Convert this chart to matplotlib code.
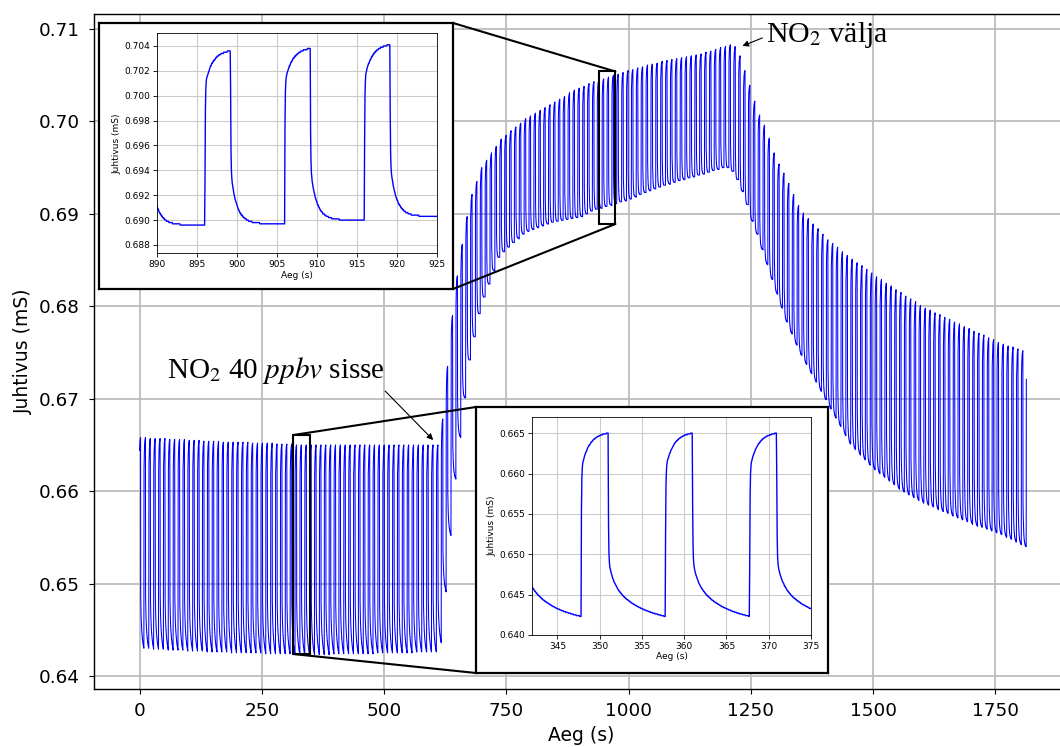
import numpy as np
import matplotlib
matplotlib.use("Agg")
import matplotlib.pyplot as plt
from matplotlib.patches import Rectangle, ConnectionPatch

plt.rcParams["mathtext.fontset"] = "stix"

# ---------------- data ----------------
PERIOD = 9.967        # s, gas pulse period
FIRST_RISE = -1.045   # s, first rising edge
ON_TIME = 3.2         # s, length of each high phase
T_END = 1813.3        # s, end of record
DT = 0.05             # s, sampling step

# envelope of the pulse tops (value just before each falling edge)
top_t = [0, 150, 350, 615, 625, 635, 645, 656, 676, 700, 738, 790, 840, 890, 899,
         909, 919, 943, 1000, 1045, 1100, 1148, 1209, 1219, 1230, 1240, 1250, 1260,
         1270, 1281, 1291, 1301, 1322, 1352, 1408, 1455, 1500, 1557, 1600, 1660,
         1700, 1762, 1820]
top_v = [0.6658, 0.6654, 0.6650, 0.6650, 0.6705, 0.6765, 0.6815, 0.6855, 0.6915,
         0.6950, 0.6980, 0.7003, 0.7018, 0.7034, 0.7036, 0.7038, 0.7041, 0.7045,
         0.7055, 0.7062, 0.7068, 0.7073, 0.7083, 0.7081, 0.7069, 0.7052, 0.7036,
         0.7018, 0.7004, 0.6993, 0.6977, 0.6961, 0.6940, 0.6904, 0.6872, 0.6852,
         0.6835, 0.6815, 0.6800, 0.6785, 0.6775, 0.6760, 0.6750]

# envelope of the pulse bottoms (value just before each rising edge)
bot_t = [0, 150, 350, 615, 625, 635, 645, 656, 676, 700, 738, 790, 840, 886, 896,
         906, 916, 926, 1000, 1045, 1100, 1148, 1202, 1219, 1240, 1256, 1264, 1297,
         1325, 1352, 1408, 1455, 1500, 1557, 1600, 1660, 1700, 1762, 1820]
bot_v = [0.6430, 0.6426, 0.6423, 0.6426, 0.6480, 0.6540, 0.6605, 0.6655, 0.6740,
         0.6800, 0.6855, 0.6880, 0.6890, 0.6895, 0.6896, 0.6897, 0.6900, 0.6903,
         0.6915, 0.6925, 0.6935, 0.6942, 0.6951, 0.6944, 0.6918, 0.6890, 0.6879,
         0.6825, 0.6782, 0.6749, 0.6695, 0.6650, 0.6625, 0.6601, 0.6588, 0.6574,
         0.6565, 0.6553, 0.6538]

# slow recovery time constant after each falling edge (s)
slow_tau_t = [0, 615, 670, 1230, 1300, 1820]
slow_tau_v = [3.0, 3.0, 0.9, 0.9, 1.6, 1.6]

# zoom windows
INSET1_XLIM = (890, 925)
INSET1_YLIM = (0.68733, 0.70502)
INSET1_XTICKS = [890, 895, 900, 905, 910, 915, 920, 925]
INSET1_YTICKS = [0.688, 0.690, 0.692, 0.694, 0.696, 0.698, 0.700, 0.702, 0.704]
INSET2_XLIM = (342, 375)
INSET2_YLIM = (0.640, 0.667)
INSET2_XTICKS = [345, 350, 355, 360, 365, 370, 375]
INSET2_YTICKS = [0.640, 0.645, 0.650, 0.655, 0.660, 0.665]
MARK1 = (940, 973, 0.6889, 0.7054)     # hand-drawn rectangles on main chart
MARK2 = (314, 349, 0.64238, 0.66607)

MAIN_XTICKS = [0, 250, 500, 750, 1000, 1250, 1500, 1750]
MAIN_YTICKS = [0.64, 0.65, 0.66, 0.67, 0.68, 0.69, 0.70, 0.71]

# ---------------- build the trace ----------------
t = np.arange(0, T_END, DT)
k = np.floor((t - FIRST_RISE) / PERIOD)
r = FIRST_RISE + k * PERIOD
tau = t - r
low_k = np.interp(r, bot_t, bot_v)
top_k = np.interp(r + ON_TIME, top_t, top_v)
low_next = np.interp(r + PERIOD, bot_t, bot_v)
ts = np.interp(r + ON_TIME, slow_tau_t, slow_tau_v)
T_OFF = PERIOD - ON_TIME

def h_on(x):
    return 0.8 * np.exp(-x / 0.04) + 0.2 * (np.exp(-x / 0.9) - np.exp(-ON_TIME / 0.9) * x / ON_TIME)

def g_off(x, ts):
    G = 0.35 * np.exp(-x / 0.5) + 0.65 * np.exp(-x / ts)
    GT = 0.35 * np.exp(-T_OFF / 0.5) + 0.65 * np.exp(-T_OFF / ts)
    return 0.68 * np.exp(-x / 0.04) + 0.32 * (G - GT * x / T_OFF)

v = np.where(tau < ON_TIME,
             top_k - (top_k - low_k) * h_on(np.clip(tau, 0, None)),
             low_next + (top_k - low_next) * g_off(np.clip(tau - ON_TIME, 0, None), ts))
v = np.round(v, 4)

# ---------------- figure ----------------
W, H = 1060, 747
fig = plt.figure(figsize=(W / 100, H / 100), dpi=100)

def fbox(x0, y0, x1, y1):
    return [x0 / W, 1 - y1 / H, (x1 - x0) / W, (y1 - y0) / H]

ax = fig.add_axes(fbox(93.5, 14, 1069, 688.5))
ax.plot(t, v, color="#0000ff", lw=0.75)
ax.set_xlim(-94.1, 1900.5)
ax.set_ylim(0.63865, 0.71162)
ax.set_xticks(MAIN_XTICKS)
ax.set_yticks(MAIN_YTICKS)
ax.set_yticklabels([f"{y:.2f}" for y in MAIN_YTICKS])
ax.tick_params(labelsize=13.2, pad=6.5)
ax.grid(True, color="#bdbdbd", lw=1.3)
ax.set_xlabel("Aeg (s)", fontsize=13.5, labelpad=4)
ax.set_ylabel("Juhtivus (mS)", fontsize=13.5, labelpad=4)
for s in ax.spines.values():
    s.set_linewidth(1.0)

for (x0, x1, y0, y1) in (MARK1, MARK2):
    ax.add_patch(Rectangle((x0, y0), x1 - x0, y1 - y0, fill=False, ec="black", lw=1.5, zorder=5))

# annotations
serif = "Liberation Serif"
ax.text(1281.7, 0.70859, r"NO$_2$ välja", fontsize=21.5, family=serif, va="baseline", ha="left")
ax.annotate("", xy=(1232.6, 0.70816), xytext=(1273.5, 0.70903),
            arrowprops=dict(arrowstyle="-|>", color="black", lw=0.8, mutation_scale=9, shrinkA=0, shrinkB=0))
ax.text(56.3, 0.67224, r"NO$_2$ 40 $ppbv$ sisse", fontsize=21, family=serif, va="baseline", ha="left")
ax.annotate("", xy=(600.5, 0.66553), xytext=(502.3, 0.67083),
            arrowprops=dict(arrowstyle="-|>", color="black", lw=0.8, mutation_scale=9, shrinkA=0, shrinkB=0))

# inset frames (white boxes)
def frame(px):
    fa = fig.add_axes(fbox(*px), zorder=2)
    fa.set_xticks([]); fa.set_yticks([])
    fa.set_facecolor("white")
    for s in fa.spines.values():
        s.set_linewidth(1.6)
    return fa

BOX1 = (99, 23, 453, 289)
BOX2 = (476, 407, 828, 673)
frame(BOX1)
frame(BOX2)

def inset(px, xlim, ylim, xt, yt, fmt):
    ia = fig.add_axes(fbox(*px), zorder=3)
    ia.plot(t, v, color="#0000ff", lw=1.0)
    ia.set_xlim(*xlim); ia.set_ylim(*ylim)
    ia.set_xticks(xt); ia.set_yticks(yt)
    ia.set_yticklabels([fmt.format(y) for y in yt])
    ia.tick_params(labelsize=6.5, length=3, width=0.6, pad=2)
    ia.grid(True, color="#cccccc", lw=0.8)
    ia.set_xlabel("Aeg (s)", fontsize=6.5, labelpad=1)
    ia.set_ylabel("Juhtivus (mS)", fontsize=6.5, labelpad=2)
    for s in ia.spines.values():
        s.set_linewidth(0.6)
    return ia

inset((157, 33.3, 437, 253.3), INSET1_XLIM, INSET1_YLIM, INSET1_XTICKS, INSET1_YTICKS, "{:.3f}")
inset((532, 417, 811, 635), INSET2_XLIM, INSET2_YLIM, INSET2_XTICKS, INSET2_YTICKS, "{:.3f}")

# connector lines
def fpt(px, py):
    return (px / W, 1 - py / H)

conns = [((MARK1[1], MARK1[3]), fpt(BOX1[2], BOX1[1])),
         ((MARK1[1], MARK1[2]), fpt(BOX1[2], BOX1[3])),
         ((MARK2[0], MARK2[3]), fpt(BOX2[0], BOX2[1])),
         ((MARK2[0], MARK2[2]), fpt(BOX2[0], BOX2[3]))]
for a, b in conns:
    cp = ConnectionPatch(xyA=a, coordsA="data", axesA=ax, xyB=b, coordsB="figure fraction",
                         color="black", lw=1.5, zorder=1.5)
    fig.add_artist(cp)

fig.savefig("out.png", dpi=100)
